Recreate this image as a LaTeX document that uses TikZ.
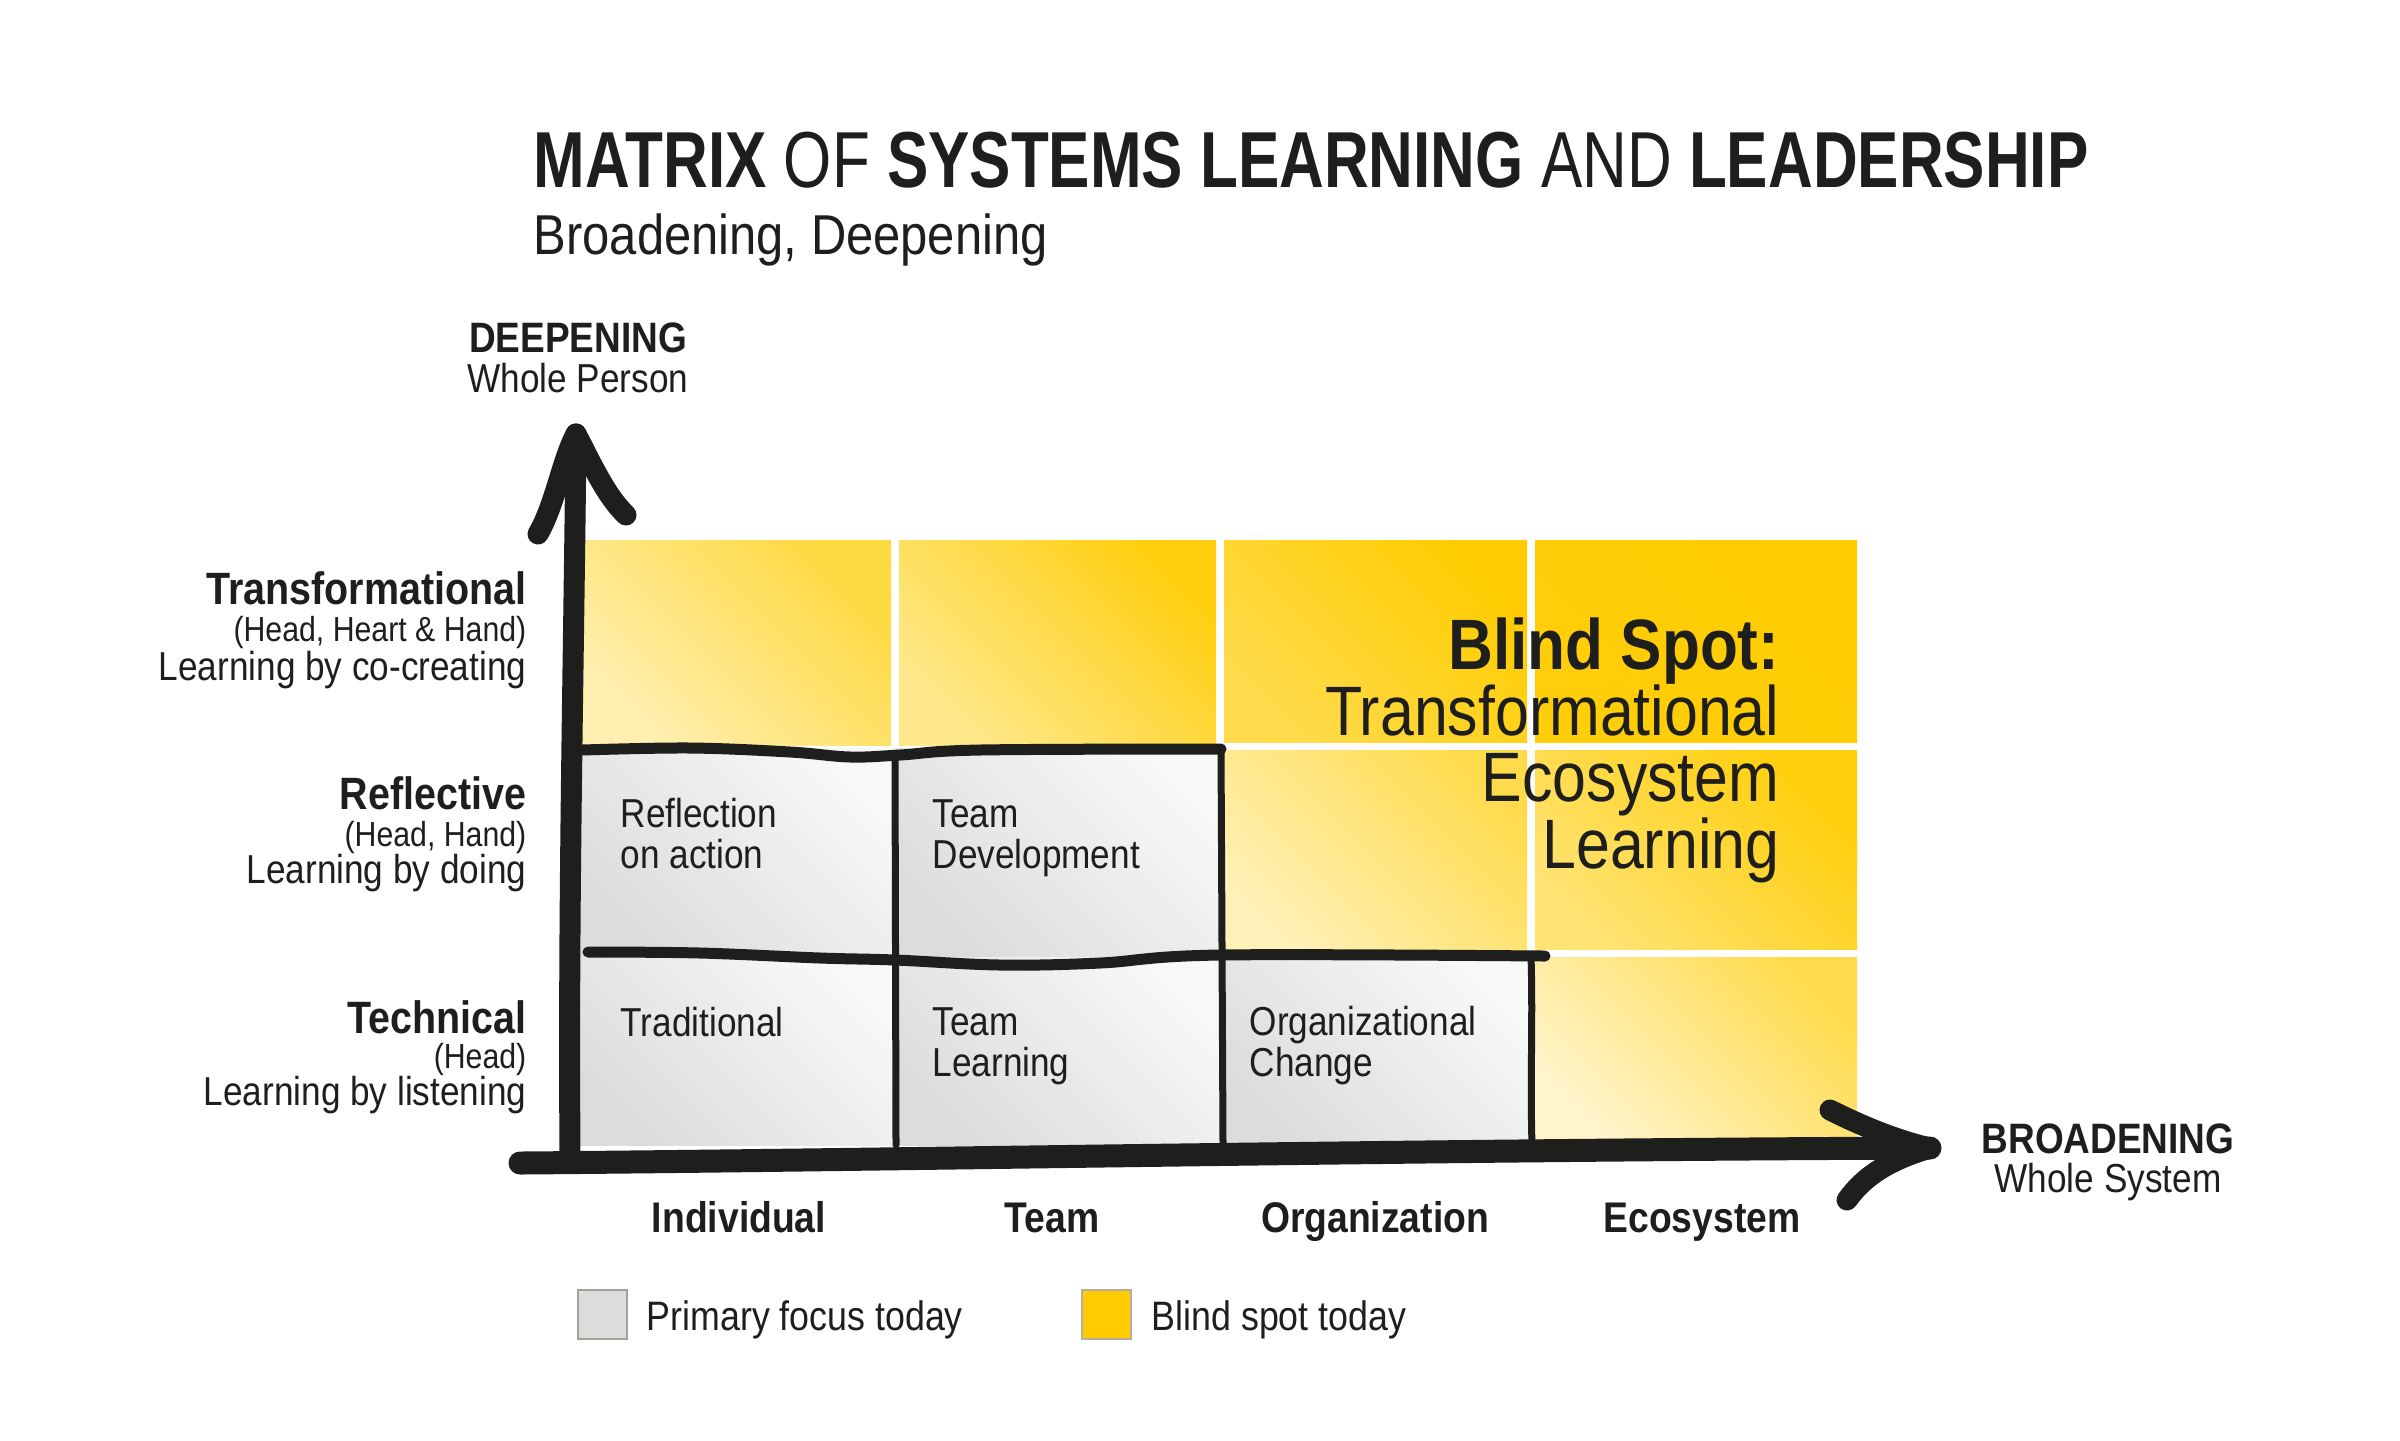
\documentclass[tikz,border=0pt]{standalone}
\usepackage{fontspec}
\setmainfont{Liberation Sans}[FakeStretch=0.87]
\newfontfamily\titlefamily{Liberation Sans}[FakeStretch=0.78]
\usetikzlibrary{positioning, calc}
\definecolor{inkBlack}{HTML}{1E1E1C}
\definecolor{focusGrey}{HTML}{DCDCDC}
\definecolor{focusPale}{HTML}{F8F8F8}
\definecolor{legendEdge}{HTML}{B4AE9C}
\definecolor{spotYellow}{HTML}{FFCC00}
\tikzset{
  spotcell/.style 2 args={top color=#2, bottom color=#1, shading angle=-45},
  focuscell/.style={top color=focusPale, bottom color=focusGrey, shading angle=-45},
  cellborder/.style={draw=inkBlack, line width=0.11cm, line cap=round, line join=round},
  celledge/.style={draw=inkBlack, line width=0.07cm, line cap=round},
  axisline/.style={draw=inkBlack, line width=0.21cm, line cap=round, line join=round},
  rowhead/.style={anchor=base east, inner sep=0pt, text=inkBlack, font=\fontsize{12.9}{14}\selectfont\bfseries},
  rowsub/.style={anchor=base east, inner sep=0pt, text=inkBlack, font=\fontsize{9.9}{12}\selectfont},
  rowdesc/.style={anchor=base east, inner sep=0pt, text=inkBlack, font=\fontsize{11.5}{13}\selectfont},
  celltext/.style={anchor=base west, inner sep=0pt, align=left, text=inkBlack, font=\fontsize{11.5}{11.4}\selectfont},
  colhead/.style={anchor=base, inner sep=0pt, text=inkBlack, font=\fontsize{12.2}{14}\selectfont\bfseries},
  axishead/.style={anchor=base, inner sep=0pt, text=inkBlack, font=\fontsize{12.1}{14}\selectfont\bfseries},
  axissub/.style={anchor=base, inner sep=0pt, text=inkBlack, font=\fontsize{11.5}{14}\selectfont},
  legendbox/.style={draw=#1, line width=0.6pt, minimum width=0.49cm, minimum height=0.49cm, inner sep=0pt},
  legendtext/.style={anchor=base west, inner sep=0pt, text=inkBlack, font=\fontsize{11.7}{13}\selectfont},
}

\begin{document}
\begin{tikzpicture}
\useasboundingbox[fill=white] (0,0) rectangle (24,-14.4);

% blind spot cells
\shade[spotcell={white!70!spotYellow}{white!25!spotYellow}] (5.76,-5.40) rectangle (8.91,-7.45);
\shade[spotcell={white!55!spotYellow}{white!6!spotYellow}] (8.99,-5.40) rectangle (12.16,-7.45);
\shade[spotcell={white!30!spotYellow}{spotYellow}] (12.24,-5.40) rectangle (15.27,-7.42);
\shade[spotcell={white!4!spotYellow}{spotYellow}] (15.35,-5.40) rectangle (18.57,-7.42);
\shade[spotcell={white!72!spotYellow}{white!30!spotYellow}] (12.24,-7.50) rectangle (15.27,-9.53);
\shade[spotcell={white!45!spotYellow}{white!4!spotYellow}] (15.35,-7.50) rectangle (18.57,-9.49);
\shade[spotcell={white!80!spotYellow}{white!30!spotYellow}] (15.35,-9.57) rectangle (18.57,-11.45);

% primary focus cells
\shade[focuscell] (5.76,-7.48) rectangle (8.95,-9.57);
\shade[focuscell] (8.95,-7.48) rectangle (12.21,-9.57);
\shade[focuscell] (5.76,-9.57) rectangle (8.95,-11.45);
\shade[focuscell] (8.95,-9.57) rectangle (12.21,-11.45);
\shade[focuscell] (12.21,-9.57) rectangle (15.31,-11.45);

% hand drawn borders
\draw[celledge] (8.95,-7.54) -- (8.96,-11.45);
\draw[celledge] (12.21,-7.49) -- (12.23,-11.45);
\draw[celledge] (15.31,-9.56) .. controls (15.33,-10.2) and (15.30,-10.8) .. (15.32,-11.45);
\draw[cellborder] plot[smooth, tension=0.6] coordinates
  {(5.82,-7.50) (6.9,-7.48) (7.9,-7.52) (8.5,-7.57) (9.0,-7.55) (9.8,-7.50) (12.21,-7.49)};
\draw[cellborder] plot[smooth, tension=0.6] coordinates
  {(5.88,-9.52) (7.0,-9.53) (8.2,-9.58) (8.95,-9.60) (10.0,-9.65) (11.0,-9.63) (12.2,-9.55) (15.45,-9.56)};

% axes
\coordinate (yfoot) at (5.70,-11.55);
\coordinate (ytip) at (5.76,-4.34);
\coordinate (ybarbL) at (5.38,-5.34);
\coordinate (ybarbR) at (6.26,-5.15);
\coordinate (xfoot) at (5.20,-11.63);
\coordinate (xtip) at (19.30,-11.48);
\coordinate (xbarbU) at (18.30,-11.10);
\coordinate (xbarbD) at (18.47,-12.00);
\draw[axisline] (yfoot) .. controls (5.68,-9.0) and (5.74,-6.5) .. (ytip);
\draw[axisline] (ybarbL) .. controls (5.55,-5.05) and (5.62,-4.60) .. (ytip)
  .. controls (5.90,-4.60) and (6.05,-4.95) .. (ybarbR);
\draw[axisline, line width=0.23cm] (xfoot) .. controls (9.0,-11.60) and (14.0,-11.50) .. (xtip);
\draw[axisline] (xbarbU) .. controls (18.60,-11.25) and (18.95,-11.40) .. (xtip)
  .. controls (18.90,-11.60) and (18.65,-11.75) .. (xbarbD);

% title
\node[anchor=base west, inner sep=0pt, text=inkBlack, font=\titlefamily\fontsize{22.6}{27}\selectfont] (title) at (5.33,-1.87)
  {\bfseries MATRIX \mdseries OF \bfseries SYSTEMS LEARNING \mdseries AND \bfseries LEADERSHIP};
\node[anchor=base west, inner sep=0pt, text=inkBlack, font=\fontsize{16}{19}\selectfont] (subtitle) at (5.33,-2.54)
  {Broadening, Deepening};

% axis names
\node[axishead] (deephead) at (5.78,-3.52) {DEEPENING};
\node[axissub] (deepsub) at (5.78,-3.92) {Whole Person};
\node[axishead] (broadhead) at (21.08,-11.53) {BROADENING};
\node[axissub] (broadsub) at (21.08,-11.92) {Whole System};

% row labels
\node[rowhead] (transhead) at (5.27,-6.04) {Transformational};
\node[rowsub] (transsub) at (5.27,-6.41) {(Head, Heart \& Hand)};
\node[rowdesc] (transdesc) at (5.27,-6.80) {Learning by co-creating};
\node[rowhead] (reflhead) at (5.27,-8.09) {Reflective};
\node[rowsub] (reflsub) at (5.27,-8.46) {(Head, Hand)};
\node[rowdesc] (refldesc) at (5.27,-8.83) {Learning by doing};
\node[rowhead] (techhead) at (5.27,-10.33) {Technical};
\node[rowsub] (techsub) at (5.27,-10.68) {(Head)};
\node[rowdesc] (techdesc) at (5.27,-11.05) {Learning by listening};

% column labels
\node[colhead] (colind) at (7.39,-12.32) {Individual};
\node[colhead] (colteam) at (10.52,-12.32) {Team};
\node[colhead] (colorg) at (13.75,-12.32) {Organization};
\node[colhead] (coleco) at (17.02,-12.32) {Ecosystem};

% cell texts (base = last line)
\node[celltext] (reflaction) at (6.20,-8.68) {Reflection\\on action};
\node[celltext] (teamdev) at (9.32,-8.68) {Team\\Development};
\node[celltext] (traditional) at (6.20,-10.36) {Traditional};
\node[celltext] (teamlearn) at (9.32,-10.76) {Team\\Learning};
\node[celltext] (orgchange) at (12.49,-10.76) {Organizational\\Change};

% blind spot statement
\node[anchor=base east, inner sep=0pt, align=right, text=inkBlack, font=\fontsize{19.9}{18.87}\selectfont] (blindspot) at (17.80,-8.68)
  {{\fontsize{20.3}{18.87}\selectfont\bfseries Blind Spot:}\\Transformational\\Ecosystem\\Learning};

% legend
\node[legendbox=legendEdge!70!gray, fill=focusGrey, anchor=north west] (keygrey) at (5.77,-12.89) {};
\node[legendtext] (keygreytext) at (6.46,-13.30) {Primary focus today};
\node[legendbox=legendEdge, fill=spotYellow, anchor=north west] (keyyellow) at (10.81,-12.89) {};
\node[legendtext] (keyyellowtext) at (11.51,-13.30) {Blind spot today};
\end{tikzpicture}
\end{document}
